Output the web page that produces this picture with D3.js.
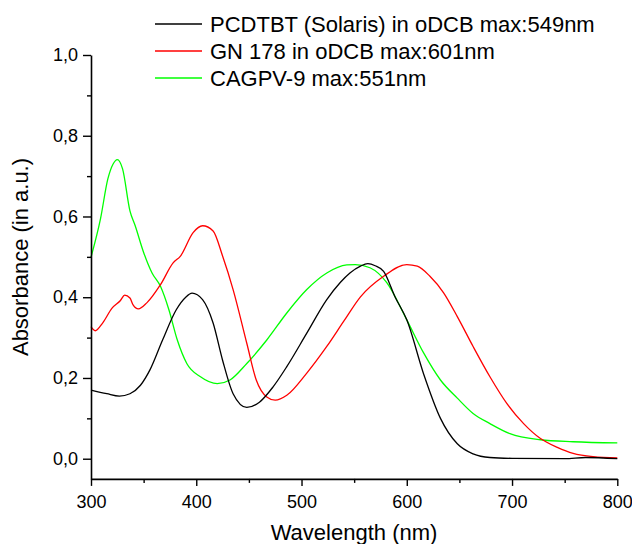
<!DOCTYPE html>
<html>
<head>
<meta charset="utf-8">
<script src="https://cdn.jsdelivr.net/npm/d3@7"></script>
<style>
  body { margin: 0; background: #fff; }
  text { font-family: "Liberation Sans", Arial, sans-serif; }
</style>
</head>
<body>
<div id="chart"></div>
<script>
// series names (legend)
var seriesNames = ["PCDTBT (Solaris) in oDCB max:549nm", "GN 178 in oDCB max:601nm", "CAGPV-9 max:551nm"];
var seriesColors = ["#000000", "#ff0000", "#00ff00"];

// PCDTBT - wavelength (nm) / absorbance
var pcdtbtWl  = [300, 315, 327, 337, 347, 356, 368, 381, 390, 396, 406, 416, 425, 435, 448, 460, 473, 486, 505, 524, 537, 546, 556, 563, 570, 578, 589, 600, 616, 632, 648, 663, 679, 700, 750, 770, 800];
var pcdtbtAbs = [0.17, 0.161, 0.155, 0.161, 0.182, 0.22, 0.294, 0.369, 0.40, 0.41, 0.394, 0.336, 0.244, 0.161, 0.127, 0.14, 0.178, 0.228, 0.311, 0.394, 0.437, 0.46, 0.477, 0.483, 0.478, 0.464, 0.40, 0.344, 0.21, 0.10, 0.037, 0.012, 0.003, 0.001, 0.0, 0.003, 0.0];

// GN 178
var gnWl  = [300, 304, 311, 320, 328, 332, 337, 340, 345, 353, 366, 378, 385, 397, 406, 416, 425, 435, 448, 457, 467, 475, 486, 505, 524, 540, 556, 578, 600, 610, 622, 635, 648, 663, 679, 695, 711, 727, 743, 758, 777, 800];
var gnAbs = [0.327, 0.317, 0.336, 0.373, 0.392, 0.405, 0.398, 0.381, 0.371, 0.386, 0.431, 0.485, 0.502, 0.56, 0.577, 0.564, 0.502, 0.419, 0.286, 0.195, 0.153, 0.145, 0.157, 0.212, 0.278, 0.34, 0.401, 0.452, 0.481, 0.477, 0.452, 0.411, 0.352, 0.278, 0.203, 0.137, 0.087, 0.05, 0.028, 0.013, 0.005, 0.002];

// CAGPV-9
var cagWl  = [300, 309, 316, 321, 325, 330, 337, 342, 350, 358, 366, 374, 382, 391, 404, 420, 432, 448, 467, 486, 505, 524, 543, 551, 565, 581, 600, 616, 632, 648, 663, 679, 698, 727, 758, 800];
var cagAbs = [0.499, 0.594, 0.693, 0.73, 0.741, 0.718, 0.614, 0.577, 0.511, 0.46, 0.427, 0.369, 0.294, 0.236, 0.203, 0.186, 0.195, 0.236, 0.294, 0.361, 0.419, 0.46, 0.48, 0.481, 0.473, 0.436, 0.344, 0.262, 0.195, 0.15, 0.112, 0.087, 0.062, 0.047, 0.042, 0.039];

// ticks
var xMajor = [300, 400, 500, 600, 700, 800];
var xMinor = [350, 450, 550, 650, 750];
var yMajor = [0, 0.2, 0.4, 0.6, 0.8, 1.0];
var yMinor = [0.1, 0.3, 0.5, 0.7, 0.9];

var W = 632, H = 544;

var svg = d3.select("#chart")
  .append("svg")
    .attr("width", W)
    .attr("height", H);

/*
 * scales
 */
var x = d3.scaleLinear().domain([300, 800]).range([91, 617.3]);
var y = d3.scaleLinear().domain([-0.05, 1.0]).range([478.9, 55]);

/*
 * curves
 */
var series = [
  d3.zip(pcdtbtWl, pcdtbtAbs),
  d3.zip(gnWl, gnAbs),
  d3.zip(cagWl, cagAbs)
];

var line = d3.line()
  .x(d => x(d[0]))
  .y(d => y(d[1]))
  .curve(d3.curveMonotoneX);

// green drawn first, black on top like the reference
[2, 1, 0].forEach(function(i) {
  svg.append("path")
    .datum(series[i])
    .attr("fill", "none")
    .attr("stroke", seriesColors[i])
    .attr("stroke-width", 1.3)
    .attr("d", line);
});

/*
 * axes
 */
var fmt = d => d3.format(".1f")(d).replace(".", ",");

svg.append("g")
  .attr("transform", "translate(0," + y(-0.05) + ")")
  .call(d3.axisBottom(x).tickValues(xMajor).tickSize(7).tickSizeOuter(0).tickPadding(9));
svg.append("g")
  .attr("transform", "translate(0," + y(-0.05) + ")")
  .call(d3.axisBottom(x).tickValues(xMinor).tickSize(4).tickFormat(""))
  .select(".domain").remove();

svg.append("g")
  .attr("transform", "translate(" + x(300) + ",0)")
  .call(d3.axisLeft(y).tickValues(yMajor).tickFormat(fmt).tickSize(8).tickSizeOuter(0).tickPadding(5));
svg.append("g")
  .attr("transform", "translate(" + x(300) + ",0)")
  .call(d3.axisLeft(y).tickValues(yMinor).tickSize(4).tickFormat(""))
  .select(".domain").remove();

svg.selectAll(".domain").attr("stroke-width", 1.6);
svg.selectAll(".tick line").attr("stroke-width", 1.4);
svg.selectAll(".tick text")
  .attr("font-size", 18)
  .attr("fill", "#000")
  .style("font-family", "'Liberation Sans', Arial, sans-serif");

// axis titles
svg.append("text")
  .attr("x", 354)
  .attr("y", 540)
  .attr("text-anchor", "middle")
  .attr("font-size", 22)
  .text("Wavelength (nm)");

svg.append("text")
  .attr("transform", "translate(28,257) rotate(-90)")
  .attr("text-anchor", "middle")
  .attr("font-size", 22)
  .text("Absorbance (in a.u.)");

/*
 * legend
 */
var legRows = [24, 51, 78];
var legend = svg.selectAll(".leg")
  .data(seriesNames)
  .enter()
  .append("g")
    .attr("class", "leg")
    .attr("transform", (d, i) => "translate(0," + legRows[i] + ")");

legend.append("line")
  .attr("x1", 155).attr("x2", 202)
  .attr("y1", 0).attr("y2", 0)
  .attr("stroke", (d, i) => seriesColors[i])
  .attr("stroke-width", 1.3);

legend.append("text")
  .attr("x", 210)
  .attr("y", 7.5)
  .attr("font-size", 22)
  .text(d => d);
</script>
</body>
</html>
